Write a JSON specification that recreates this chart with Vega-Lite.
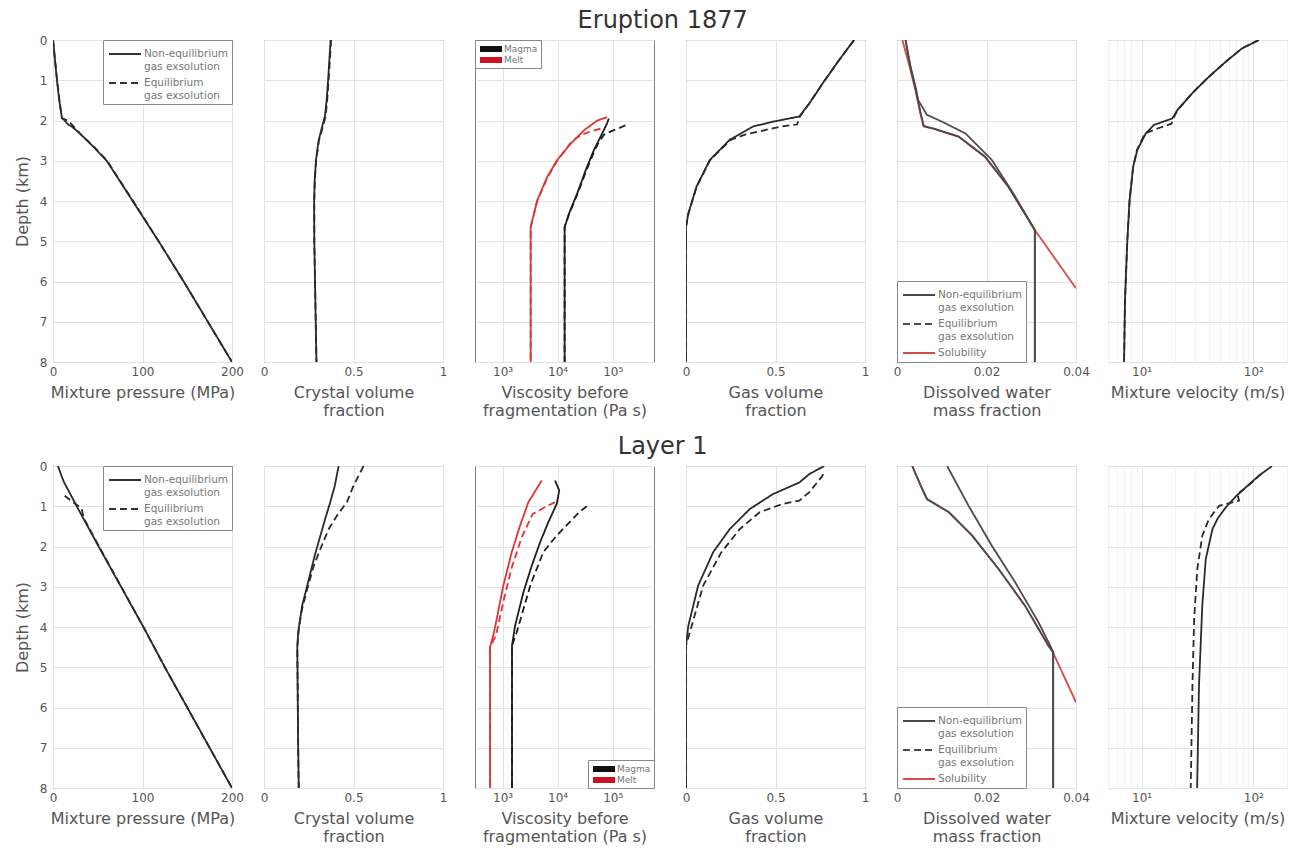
{
"$schema": "https://vega.github.io/schema/vega-lite/v6.json",
"background": "white",
"padding": {"left": 13, "top": 8, "right": 5, "bottom": 5},
"config": {
  "font": "DejaVu Sans",
  "view": {"stroke": "#808080", "strokeWidth": 1},
  "axis": {"domain": false, "ticks": false, "grid": true, "gridColor": "#e2e2e2", "gridWidth": 1, "labelFont": "DejaVu Sans", "labelFontSize": 12, "labelColor": "#555555", "titleFont": "DejaVu Sans", "titleFontSize": 16, "titleFontWeight": "normal", "titleColor": "#555555", "labelPadding": 4, "titlePadding": 7, "titleLineHeight": 18, "labelOverlap": false, "labelFlush": false},
  "legend": {"title": null, "strokeColor": "#888888", "fillColor": "white", "labelFont": "DejaVu Sans", "labelColor": "#777777", "cornerRadius": 0},
  "title": {"font": "DejaVu Sans", "fontSize": 24, "fontWeight": "normal", "color": "#333333", "anchor": "middle", "frame": "bounds"}
},
"spacing": 15,
"resolve": {"scale": {"color": "independent", "strokeDash": "independent"}, "legend": {"color": "independent", "strokeDash": "independent"}},
"vconcat": [
{
  "title": {"text": "Eruption 1877", "offset": 1, "dx": 12},
  "spacing": 32,
  "bounds": "flush",
  "resolve": {"scale": {"color": "independent", "strokeDash": "independent"}, "legend": {"color": "independent", "strokeDash": "independent"}},
  "hconcat": [
  {
    "width": 179, "height": 322,
    "data": {"values": [
      {"s":"ne","d":0,"v":0.1},{"s":"ne","d":0.5,"v":2.2},{"s":"ne","d":1,"v":4.4},{"s":"ne","d":1.5,"v":7},{"s":"ne","d":1.94,"v":10},{"s":"ne","d":2,"v":13},{"s":"ne","d":2.1,"v":17},{"s":"ne","d":2.15,"v":21},{"s":"ne","d":2.3,"v":29},{"s":"ne","d":2.65,"v":45},{"s":"ne","d":3,"v":60},{"s":"ne","d":4,"v":89},{"s":"ne","d":5,"v":118},{"s":"ne","d":6,"v":146},{"s":"ne","d":7,"v":173},{"s":"ne","d":8,"v":200},
      {"s":"eq","d":0,"v":0.1},{"s":"eq","d":0.5,"v":2.3},{"s":"eq","d":1,"v":4.6},{"s":"eq","d":1.5,"v":7.2},{"s":"eq","d":1.94,"v":10},{"s":"eq","d":2,"v":16},{"s":"eq","d":2.07,"v":20},{"s":"eq","d":2.2,"v":25},{"s":"eq","d":2.32,"v":30},{"s":"eq","d":2.65,"v":45.5},{"s":"eq","d":3,"v":60.5},{"s":"eq","d":4,"v":89.5},{"s":"eq","d":5,"v":118},{"s":"eq","d":6,"v":146},{"s":"eq","d":7,"v":173},{"s":"eq","d":8,"v":200}
    ]},
    "mark": {"type": "line", "strokeWidth": 1.8, "color": "#2a2a2a", "clip": true},
    "encoding": {
      "x": {"field": "v", "type": "quantitative", "scale": {"domain": [0, 200], "nice": false, "zero": false}, "axis": {"values": [0, 100, 200], "title": "Mixture pressure (MPa)"}},
      "y": {"field": "d", "type": "quantitative", "scale": {"domain": [0, 8], "reverse": true, "nice": false}, "axis": {"values": [0,1,2,3,4,5,6,7,8], "title": "Depth (km)", "labelPadding": 6, "titlePadding": 9}},
      "order": {"field": "d", "type": "quantitative"},
      "strokeDash": {"field": "s", "type": "nominal", "scale": {"domain": ["ne", "eq"], "range": [[1, 0], [7, 4]]},
        "legend": {"orient": "top-right", "offset": 0, "padding": 3, "symbolType": "M-0.8,0H2.4", "symbolSize": 400, "symbolStrokeWidth": 2, "symbolStrokeColor": "#333333", "labelFontSize": 10.5, "labelOffset": 16, "rowPadding": 0,
          "labelExpr": "datum.value == 'ne' ? ['Non-equilibrium', 'gas exsolution'] : ['Equilibrium', 'gas exsolution']"}}
    }
  },
  {
    "width": 179, "height": 322,
    "data": {"values": [
      {"s":"ne","d":0,"v":0.372},{"s":"ne","d":0.5,"v":0.365},{"s":"ne","d":1,"v":0.358},{"s":"ne","d":1.5,"v":0.35},{"s":"ne","d":1.9,"v":0.34},{"s":"ne","d":2.2,"v":0.322},{"s":"ne","d":2.5,"v":0.305},{"s":"ne","d":3,"v":0.29},{"s":"ne","d":3.5,"v":0.283},{"s":"ne","d":4,"v":0.28},{"s":"ne","d":5,"v":0.281},{"s":"ne","d":6,"v":0.285},{"s":"ne","d":7,"v":0.289},{"s":"ne","d":8,"v":0.293},
      {"s":"eq","d":0,"v":0.375},{"s":"eq","d":0.5,"v":0.368},{"s":"eq","d":1,"v":0.361},{"s":"eq","d":1.5,"v":0.353},{"s":"eq","d":1.9,"v":0.344},{"s":"eq","d":2.2,"v":0.326},{"s":"eq","d":2.5,"v":0.307},{"s":"eq","d":3,"v":0.291},{"s":"eq","d":3.5,"v":0.284},{"s":"eq","d":4,"v":0.281},{"s":"eq","d":5,"v":0.281},{"s":"eq","d":6,"v":0.285},{"s":"eq","d":7,"v":0.289},{"s":"eq","d":8,"v":0.293}
    ]},
    "mark": {"type": "line", "strokeWidth": 1.8, "color": "#2a2a2a", "clip": true},
    "encoding": {
      "x": {"field": "v", "type": "quantitative", "scale": {"domain": [0, 1], "nice": false, "zero": false}, "axis": {"values": [0, 0.5, 1], "labelExpr": "toString(datum.value)", "title": ["Crystal volume", "fraction"]}},
      "y": {"field": "d", "type": "quantitative", "scale": {"domain": [0, 8], "reverse": true, "nice": false}, "axis": {"values": [0,1,2,3,4,5,6,7,8], "labels": false, "title": null}},
      "order": {"field": "d", "type": "quantitative"},
      "strokeDash": {"field": "s", "type": "nominal", "scale": {"domain": ["ne", "eq"], "range": [[1, 0], [7, 4]]}, "legend": null}
    }
  },
  {
    "width": 179, "height": 322,
    "data": {"values": [
      {"m":"Magma","s":"ne","d":8,"v":13400},{"m":"Magma","s":"ne","d":4.65,"v":13400},{"m":"Magma","s":"ne","d":4.31,"v":16100},{"m":"Magma","s":"ne","d":3.81,"v":22700},{"m":"Magma","s":"ne","d":3.23,"v":32400},{"m":"Magma","s":"ne","d":2.73,"v":45700},{"m":"Magma","s":"ne","d":2.32,"v":64600},{"m":"Magma","s":"ne","d":2.07,"v":79000},{"m":"Magma","s":"ne","d":1.95,"v":85000},
      {"m":"Melt","s":"ne","d":8,"v":3240},{"m":"Melt","s":"ne","d":4.65,"v":3240},{"m":"Melt","s":"ne","d":3.98,"v":4270},{"m":"Melt","s":"ne","d":3.4,"v":6480},{"m":"Melt","s":"ne","d":2.98,"v":9820},{"m":"Melt","s":"ne","d":2.57,"v":17400},{"m":"Melt","s":"ne","d":2.24,"v":30400},{"m":"Melt","s":"ne","d":2.0,"v":52500},{"m":"Melt","s":"ne","d":1.92,"v":79000},
      {"m":"Magma","s":"eq","d":8,"v":13400},{"m":"Magma","s":"eq","d":4.65,"v":13400},{"m":"Magma","s":"eq","d":4.31,"v":16300},{"m":"Magma","s":"eq","d":3.81,"v":23200},{"m":"Magma","s":"eq","d":3.23,"v":33500},{"m":"Magma","s":"eq","d":2.73,"v":47500},{"m":"Magma","s":"eq","d":2.5,"v":58000},{"m":"Magma","s":"eq","d":2.35,"v":70000},{"m":"Magma","s":"eq","d":2.25,"v":100000},{"m":"Magma","s":"eq","d":2.18,"v":135000},{"m":"Magma","s":"eq","d":2.12,"v":170000},
      {"m":"Melt","s":"eq","d":8,"v":3240},{"m":"Melt","s":"eq","d":4.65,"v":3240},{"m":"Melt","s":"eq","d":3.98,"v":4300},{"m":"Melt","s":"eq","d":3.4,"v":6600},{"m":"Melt","s":"eq","d":2.98,"v":10100},{"m":"Melt","s":"eq","d":2.57,"v":17000},{"m":"Melt","s":"eq","d":2.45,"v":21000},{"m":"Melt","s":"eq","d":2.33,"v":30000},{"m":"Melt","s":"eq","d":2.25,"v":45000},{"m":"Melt","s":"eq","d":2.2,"v":60000}
    ]},
    "mark": {"type": "line", "strokeWidth": 1.8, "clip": true},
    "encoding": {
      "x": {"field": "v", "type": "quantitative", "scale": {"type": "log", "domain": [316.2, 562341], "nice": false}, "axis": {"values": [1000, 10000, 100000], "labelExpr": "datum.value == 1000 ? '10³' : datum.value == 10000 ? '10⁴' : '10⁵'", "title": ["Viscosity before", "fragmentation (Pa s)"]}},
      "y": {"field": "d", "type": "quantitative", "scale": {"domain": [0, 8], "reverse": true, "nice": false}, "axis": {"values": [0,1,2,3,4,5,6,7,8], "labels": false, "title": null}},
      "order": {"field": "d", "type": "quantitative"},
      "color": {"field": "m", "type": "nominal", "scale": {"domain": ["Magma", "Melt"], "range": ["#1e1e1e", "#dd3535"]},
        "legend": {"orient": "top-left", "offset": 0, "padding": 3, "symbolType": "M-0.67,-0.5H3V0.5H-0.67Z", "symbolSize": 144, "symbolStrokeWidth": 0, "labelFontSize": 9, "labelOffset": 14, "rowPadding": 0,
          "encode": {"symbols": {"update": {"fill": {"signal": "datum.value == 'Magma' ? '#111111' : '#cc1122'"}, "fillOpacity": {"value": 1}, "strokeWidth": {"value": 0}}}}}},
      "strokeDash": {"field": "s", "type": "nominal", "scale": {"domain": ["ne", "eq"], "range": [[1, 0], [7, 4]]}, "legend": null}
    }
  },
  {
    "width": 179, "height": 322,
    "data": {"values": [
      {"s":"ne","d":8,"v":0},{"s":"ne","d":4.64,"v":0},{"s":"ne","d":4.31,"v":0.013},{"s":"ne","d":3.64,"v":0.059},{"s":"ne","d":2.98,"v":0.133},{"s":"ne","d":2.48,"v":0.244},{"s":"ne","d":2.15,"v":0.374},{"s":"ne","d":2.03,"v":0.485},{"s":"ne","d":1.9,"v":0.633},{"s":"ne","d":1.57,"v":0.69},{"s":"ne","d":1.08,"v":0.763},{"s":"ne","d":0.5,"v":0.855},{"s":"ne","d":0,"v":0.939},
      {"s":"eq","d":8,"v":0},{"s":"eq","d":4.64,"v":0},{"s":"eq","d":4.31,"v":0.014},{"s":"eq","d":3.64,"v":0.06},{"s":"eq","d":2.98,"v":0.135},{"s":"eq","d":2.48,"v":0.25},{"s":"eq","d":2.35,"v":0.33},{"s":"eq","d":2.25,"v":0.43},{"s":"eq","d":2.15,"v":0.53},{"s":"eq","d":2.1,"v":0.62},{"s":"eq","d":1.9,"v":0.636},{"s":"eq","d":1.57,"v":0.69},{"s":"eq","d":1.08,"v":0.763},{"s":"eq","d":0.5,"v":0.855},{"s":"eq","d":0,"v":0.939}
    ]},
    "mark": {"type": "line", "strokeWidth": 1.8, "color": "#2a2a2a", "clip": true},
    "encoding": {
      "x": {"field": "v", "type": "quantitative", "scale": {"domain": [0, 1], "nice": false, "zero": false}, "axis": {"values": [0, 0.5, 1], "labelExpr": "toString(datum.value)", "title": ["Gas volume", "fraction"]}},
      "y": {"field": "d", "type": "quantitative", "scale": {"domain": [0, 8], "reverse": true, "nice": false}, "axis": {"values": [0,1,2,3,4,5,6,7,8], "labels": false, "title": null}},
      "order": {"field": "d", "type": "quantitative"},
      "strokeDash": {"field": "s", "type": "nominal", "scale": {"domain": ["ne", "eq"], "range": [[1, 0], [7, 4]]}, "legend": null}
    }
  },
  {
    "width": 179, "height": 322,
    "data": {"values": [
      {"s":"sol","d":0,"v":0.0012},{"s":"sol","d":0.66,"v":0.0028},{"s":"sol","d":1.24,"v":0.0041},{"s":"sol","d":1.82,"v":0.0052},{"s":"sol","d":2.14,"v":0.0059},{"s":"sol","d":2.2,"v":0.0081},{"s":"sol","d":2.4,"v":0.0137},{"s":"sol","d":2.9,"v":0.0196},{"s":"sol","d":3.64,"v":0.0248},{"s":"sol","d":4.72,"v":0.0308},{"s":"sol","d":6.17,"v":0.04},
      {"s":"ne","d":0,"v":0.0019},{"s":"ne","d":0.66,"v":0.003},{"s":"ne","d":1.24,"v":0.0043},{"s":"ne","d":1.49,"v":0.0047},{"s":"ne","d":1.86,"v":0.0067},{"s":"ne","d":2.03,"v":0.0101},{"s":"ne","d":2.32,"v":0.0153},{"s":"ne","d":2.98,"v":0.0212},{"s":"ne","d":3.89,"v":0.0264},{"s":"ne","d":4.72,"v":0.0308},{"s":"ne","d":8,"v":0.0308},
      {"s":"eq","d":0,"v":0.0019},{"s":"eq","d":0.66,"v":0.003},{"s":"eq","d":1.24,"v":0.0042},{"s":"eq","d":1.82,"v":0.0053},{"s":"eq","d":2.14,"v":0.006},{"s":"eq","d":2.2,"v":0.0082},{"s":"eq","d":2.4,"v":0.0138},{"s":"eq","d":2.9,"v":0.0197},{"s":"eq","d":3.64,"v":0.0249},{"s":"eq","d":4.72,"v":0.0308},{"s":"eq","d":8,"v":0.0308}
    ]},
    "mark": {"type": "line", "strokeWidth": 1.8, "clip": true},
    "encoding": {
      "x": {"field": "v", "type": "quantitative", "scale": {"domain": [0, 0.04], "nice": false, "zero": false}, "axis": {"values": [0, 0.02, 0.04], "labelExpr": "toString(datum.value)", "title": ["Dissolved water", "mass fraction"]}},
      "y": {"field": "d", "type": "quantitative", "scale": {"domain": [0, 8], "reverse": true, "nice": false}, "axis": {"values": [0,1,2,3,4,5,6,7,8], "labels": false, "title": null}},
      "order": {"field": "d", "type": "quantitative"},
      "color": {"field": "s", "type": "nominal", "scale": {"domain": ["ne", "eq", "sol"], "range": ["#4a4a4a", "#4a4a4a", "#d84a4a"]},
        "legend": {"orient": "bottom-left", "offset": 0, "padding": 3, "symbolType": "M-0.8,0H2.4", "symbolSize": 400, "symbolStrokeWidth": 2, "labelFontSize": 10.5, "labelOffset": 16, "rowPadding": 0,
          "labelExpr": "datum.value == 'ne' ? ['Non-equilibrium', 'gas exsolution'] : datum.value == 'eq' ? ['Equilibrium', 'gas exsolution'] : 'Solubility'",
          "encode": {"symbols": {"update": {"strokeDash": {"signal": "datum.value == 'eq' ? [7, 4] : [1, 0]"}}}}}}
    }
  },
  {
    "width": 179, "height": 322,
    "data": {"values": [
      {"s":"ne","d":8,"v":6.96},{"s":"ne","d":6.46,"v":7.1},{"s":"ne","d":4.97,"v":7.45},{"s":"ne","d":3.98,"v":7.8},{"s":"ne","d":3.15,"v":8.4},{"s":"ne","d":2.73,"v":9.15},{"s":"ne","d":2.32,"v":10.9},{"s":"ne","d":2.11,"v":12.9},{"s":"ne","d":1.95,"v":18.8},{"s":"ne","d":1.74,"v":20.9},{"s":"ne","d":1.32,"v":28.4},{"s":"ne","d":0.91,"v":40.1},{"s":"ne","d":0.54,"v":56.6},{"s":"ne","d":0.21,"v":79},{"s":"ne","d":0,"v":112},
      {"s":"eq","d":8,"v":6.96},{"s":"eq","d":6.46,"v":7.1},{"s":"eq","d":4.97,"v":7.45},{"s":"eq","d":3.98,"v":7.8},{"s":"eq","d":3.15,"v":8.4},{"s":"eq","d":2.73,"v":9.1},{"s":"eq","d":2.32,"v":10.7},{"s":"eq","d":2.18,"v":14.5},{"s":"eq","d":2.08,"v":18.5},{"s":"eq","d":1.95,"v":19.2},{"s":"eq","d":1.74,"v":21},{"s":"eq","d":1.32,"v":28.4},{"s":"eq","d":0.91,"v":40.1},{"s":"eq","d":0.54,"v":56.6},{"s":"eq","d":0.21,"v":79},{"s":"eq","d":0,"v":112}
    ]},
    "mark": {"type": "line", "strokeWidth": 1.8, "color": "#2a2a2a", "clip": true},
    "encoding": {
      "x": {"field": "v", "type": "quantitative", "scale": {"type": "log", "domain": [5, 200], "nice": false}, "axis": {"values": [5,6,7,8,9,10,20,30,40,50,60,70,80,90,100,200], "labelExpr": "datum.value == 10 ? '10¹' : datum.value == 100 ? '10²' : ''", "gridColor": {"condition": {"test": "datum.value == 10 || datum.value == 100", "value": "#e2e2e2"}, "value": "#f1f1f1"}, "title": "Mixture velocity (m/s)"}},
      "y": {"field": "d", "type": "quantitative", "scale": {"domain": [0, 8], "reverse": true, "nice": false}, "axis": {"values": [0,1,2,3,4,5,6,7,8], "labels": false, "title": null}},
      "order": {"field": "d", "type": "quantitative"},
      "strokeDash": {"field": "s", "type": "nominal", "scale": {"domain": ["ne", "eq"], "range": [[1, 0], [7, 4]]}, "legend": null}
    }
  }
  ]
},
{
  "title": {"text": "Layer 1", "offset": 1, "dx": 12},
  "spacing": 32,
  "bounds": "flush",
  "resolve": {"scale": {"color": "independent", "strokeDash": "independent"}, "legend": {"color": "independent", "strokeDash": "independent"}},
  "hconcat": [
  {
    "width": 179, "height": 322,
    "data": {"values": [
      {"s":"ne","d":0,"v":5.6},{"s":"ne","d":0.24,"v":9.4},{"s":"ne","d":0.4,"v":12.3},{"s":"ne","d":1,"v":26.5},{"s":"ne","d":2,"v":51},{"s":"ne","d":3,"v":76},{"s":"ne","d":4,"v":101},{"s":"ne","d":5,"v":125},{"s":"ne","d":6,"v":150},{"s":"ne","d":7,"v":175},{"s":"ne","d":8,"v":200},
      {"s":"eq","d":0.74,"v":13},{"s":"eq","d":0.86,"v":20},{"s":"eq","d":1.05,"v":31.8},{"s":"eq","d":1.3,"v":34.5},{"s":"eq","d":2,"v":51.5},{"s":"eq","d":3,"v":76.2},{"s":"eq","d":4,"v":101},{"s":"eq","d":5,"v":125},{"s":"eq","d":6,"v":150},{"s":"eq","d":7,"v":175},{"s":"eq","d":8,"v":200}
    ]},
    "mark": {"type": "line", "strokeWidth": 1.8, "color": "#2a2a2a", "clip": true},
    "encoding": {
      "x": {"field": "v", "type": "quantitative", "scale": {"domain": [0, 200], "nice": false, "zero": false}, "axis": {"values": [0, 100, 200], "title": "Mixture pressure (MPa)"}},
      "y": {"field": "d", "type": "quantitative", "scale": {"domain": [0, 8], "reverse": true, "nice": false}, "axis": {"values": [0,1,2,3,4,5,6,7,8], "title": "Depth (km)", "labelPadding": 6, "titlePadding": 9}},
      "order": {"field": "d", "type": "quantitative"},
      "strokeDash": {"field": "s", "type": "nominal", "scale": {"domain": ["ne", "eq"], "range": [[1, 0], [7, 4]]},
        "legend": {"orient": "top-right", "offset": 0, "padding": 3, "symbolType": "M-0.8,0H2.4", "symbolSize": 400, "symbolStrokeWidth": 2, "symbolStrokeColor": "#333333", "labelFontSize": 10.5, "labelOffset": 16, "rowPadding": 0,
          "labelExpr": "datum.value == 'ne' ? ['Non-equilibrium', 'gas exsolution'] : ['Equilibrium', 'gas exsolution']"}}
    }
  },
  {
    "width": 179, "height": 322,
    "data": {"values": [
      {"s":"ne","d":0,"v":0.417},{"s":"ne","d":0.5,"v":0.395},{"s":"ne","d":0.9,"v":0.37},{"s":"ne","d":1.3,"v":0.343},{"s":"ne","d":1.73,"v":0.315},{"s":"ne","d":2.2,"v":0.285},{"s":"ne","d":2.64,"v":0.26},{"s":"ne","d":3,"v":0.24},{"s":"ne","d":3.47,"v":0.213},{"s":"ne","d":4.13,"v":0.191},{"s":"ne","d":4.5,"v":0.186},{"s":"ne","d":5,"v":0.187},{"s":"ne","d":6,"v":0.189},{"s":"ne","d":7,"v":0.191},{"s":"ne","d":8,"v":0.194},
      {"s":"eq","d":0,"v":0.556},{"s":"eq","d":0.49,"v":0.5},{"s":"eq","d":0.9,"v":0.463},{"s":"eq","d":1.23,"v":0.408},{"s":"eq","d":1.57,"v":0.361},{"s":"eq","d":2.06,"v":0.315},{"s":"eq","d":2.48,"v":0.278},{"s":"eq","d":3.06,"v":0.241},{"s":"eq","d":3.55,"v":0.213},{"s":"eq","d":3.97,"v":0.196},{"s":"eq","d":4.3,"v":0.19},{"s":"eq","d":4.5,"v":0.186},{"s":"eq","d":5,"v":0.187},{"s":"eq","d":6,"v":0.189},{"s":"eq","d":7,"v":0.191},{"s":"eq","d":8,"v":0.194}
    ]},
    "mark": {"type": "line", "strokeWidth": 1.8, "color": "#2a2a2a", "clip": true},
    "encoding": {
      "x": {"field": "v", "type": "quantitative", "scale": {"domain": [0, 1], "nice": false, "zero": false}, "axis": {"values": [0, 0.5, 1], "labelExpr": "toString(datum.value)", "title": ["Crystal volume", "fraction"]}},
      "y": {"field": "d", "type": "quantitative", "scale": {"domain": [0, 8], "reverse": true, "nice": false}, "axis": {"values": [0,1,2,3,4,5,6,7,8], "labels": false, "title": null}},
      "order": {"field": "d", "type": "quantitative"},
      "strokeDash": {"field": "s", "type": "nominal", "scale": {"domain": ["ne", "eq"], "range": [[1, 0], [7, 4]]}, "legend": null}
    }
  },
  {
    "width": 179, "height": 322,
    "data": {"values": [
      {"m":"Magma","s":"ne","d":8,"v":1486},{"m":"Magma","s":"ne","d":4.46,"v":1486},{"m":"Magma","s":"ne","d":3.97,"v":1690},{"m":"Magma","s":"ne","d":3.14,"v":2390},{"m":"Magma","s":"ne","d":2.48,"v":3390},{"m":"Magma","s":"ne","d":1.9,"v":4790},{"m":"Magma","s":"ne","d":1.4,"v":6760},{"m":"Magma","s":"ne","d":0.94,"v":9640},{"m":"Magma","s":"ne","d":0.61,"v":10700},{"m":"Magma","s":"ne","d":0.36,"v":8980},
      {"m":"Melt","s":"ne","d":8,"v":593},{"m":"Melt","s":"ne","d":4.5,"v":593},{"m":"Melt","s":"ne","d":4.2,"v":680},{"m":"Melt","s":"ne","d":3.8,"v":785},{"m":"Melt","s":"ne","d":2.97,"v":1035},{"m":"Melt","s":"ne","d":2.14,"v":1470},{"m":"Melt","s":"ne","d":1.48,"v":2080},{"m":"Melt","s":"ne","d":0.9,"v":2940},{"m":"Melt","s":"ne","d":0.36,"v":5140},
      {"m":"Magma","s":"eq","d":8,"v":1486},{"m":"Magma","s":"eq","d":4.46,"v":1486},{"m":"Magma","s":"eq","d":4.13,"v":1810},{"m":"Magma","s":"eq","d":2.94,"v":3240},{"m":"Magma","s":"eq","d":2.14,"v":5500},{"m":"Magma","s":"eq","d":1.73,"v":9600},{"m":"Magma","s":"eq","d":1.15,"v":24500},{"m":"Magma","s":"eq","d":1.0,"v":34000},
      {"m":"Melt","s":"eq","d":8,"v":593},{"m":"Melt","s":"eq","d":4.5,"v":593},{"m":"Melt","s":"eq","d":4.21,"v":760},{"m":"Melt","s":"eq","d":3.3,"v":1065},{"m":"Melt","s":"eq","d":2.52,"v":1470},{"m":"Melt","s":"eq","d":1.77,"v":2230},{"m":"Melt","s":"eq","d":1.19,"v":3530},{"m":"Melt","s":"eq","d":0.99,"v":6500},{"m":"Melt","s":"eq","d":0.9,"v":8980}
    ]},
    "mark": {"type": "line", "strokeWidth": 1.8, "clip": true},
    "encoding": {
      "x": {"field": "v", "type": "quantitative", "scale": {"type": "log", "domain": [316.2, 562341], "nice": false}, "axis": {"values": [1000, 10000, 100000], "labelExpr": "datum.value == 1000 ? '10³' : datum.value == 10000 ? '10⁴' : '10⁵'", "title": ["Viscosity before", "fragmentation (Pa s)"]}},
      "y": {"field": "d", "type": "quantitative", "scale": {"domain": [0, 8], "reverse": true, "nice": false}, "axis": {"values": [0,1,2,3,4,5,6,7,8], "labels": false, "title": null}},
      "order": {"field": "d", "type": "quantitative"},
      "color": {"field": "m", "type": "nominal", "scale": {"domain": ["Magma", "Melt"], "range": ["#1e1e1e", "#dd3535"]},
        "legend": {"orient": "bottom-right", "offset": 0, "padding": 3, "symbolType": "M-0.67,-0.5H3V0.5H-0.67Z", "symbolSize": 144, "symbolStrokeWidth": 0, "labelFontSize": 9, "labelOffset": 14, "rowPadding": 0,
          "encode": {"symbols": {"update": {"fill": {"signal": "datum.value == 'Magma' ? '#111111' : '#cc1122'"}, "fillOpacity": {"value": 1}, "strokeWidth": {"value": 0}}}}}},
      "strokeDash": {"field": "s", "type": "nominal", "scale": {"domain": ["ne", "eq"], "range": [[1, 0], [7, 4]]}, "legend": null}
    }
  },
  {
    "width": 179, "height": 322,
    "data": {"values": [
      {"s":"ne","d":8,"v":0},{"s":"ne","d":4.46,"v":0},{"s":"ne","d":3.97,"v":0.013},{"s":"ne","d":2.97,"v":0.068},{"s":"ne","d":2.14,"v":0.152},{"s":"ne","d":1.57,"v":0.244},{"s":"ne","d":1.07,"v":0.356},{"s":"ne","d":0.7,"v":0.485},{"s":"ne","d":0.41,"v":0.633},{"s":"ne","d":0.2,"v":0.689},{"s":"ne","d":0,"v":0.772},
      {"s":"eq","d":8,"v":0},{"s":"eq","d":4.46,"v":0},{"s":"eq","d":3.97,"v":0.032},{"s":"eq","d":2.97,"v":0.096},{"s":"eq","d":2.14,"v":0.198},{"s":"eq","d":1.57,"v":0.3},{"s":"eq","d":1.15,"v":0.411},{"s":"eq","d":0.94,"v":0.541},{"s":"eq","d":0.86,"v":0.633},{"s":"eq","d":0.65,"v":0.689},{"s":"eq","d":0.24,"v":0.763},{"s":"eq","d":0.2,"v":0.765}
    ]},
    "mark": {"type": "line", "strokeWidth": 1.8, "color": "#2a2a2a", "clip": true},
    "encoding": {
      "x": {"field": "v", "type": "quantitative", "scale": {"domain": [0, 1], "nice": false, "zero": false}, "axis": {"values": [0, 0.5, 1], "labelExpr": "toString(datum.value)", "title": ["Gas volume", "fraction"]}},
      "y": {"field": "d", "type": "quantitative", "scale": {"domain": [0, 8], "reverse": true, "nice": false}, "axis": {"values": [0,1,2,3,4,5,6,7,8], "labels": false, "title": null}},
      "order": {"field": "d", "type": "quantitative"},
      "strokeDash": {"field": "s", "type": "nominal", "scale": {"domain": ["ne", "eq"], "range": [[1, 0], [7, 4]]}, "legend": null}
    }
  },
  {
    "width": 179, "height": 322,
    "data": {"values": [
      {"s":"sol","d":0,"v":0.0034},{"s":"sol","d":0.49,"v":0.0053},{"s":"sol","d":0.82,"v":0.0067},{"s":"sol","d":1.15,"v":0.0116},{"s":"sol","d":1.73,"v":0.0168},{"s":"sol","d":2.56,"v":0.0227},{"s":"sol","d":3.47,"v":0.0286},{"s":"sol","d":4.46,"v":0.0338},{"s":"sol","d":4.62,"v":0.0348},{"s":"sol","d":5.87,"v":0.04},
      {"s":"ne","d":0,"v":0.0112},{"s":"ne","d":0.99,"v":0.016},{"s":"ne","d":1.98,"v":0.0212},{"s":"ne","d":2.89,"v":0.0264},{"s":"ne","d":3.88,"v":0.0316},{"s":"ne","d":4.46,"v":0.0342},{"s":"ne","d":4.62,"v":0.0349},{"s":"ne","d":8,"v":0.0349},
      {"s":"eq","d":0,"v":0.0034},{"s":"eq","d":0.49,"v":0.0053},{"s":"eq","d":0.82,"v":0.0067},{"s":"eq","d":1.15,"v":0.0116},{"s":"eq","d":1.73,"v":0.0168},{"s":"eq","d":2.56,"v":0.0227},{"s":"eq","d":3.47,"v":0.0286},{"s":"eq","d":4.46,"v":0.0338},{"s":"eq","d":4.62,"v":0.0349},{"s":"eq","d":8,"v":0.0349}
    ]},
    "mark": {"type": "line", "strokeWidth": 1.8, "clip": true},
    "encoding": {
      "x": {"field": "v", "type": "quantitative", "scale": {"domain": [0, 0.04], "nice": false, "zero": false}, "axis": {"values": [0, 0.02, 0.04], "labelExpr": "toString(datum.value)", "title": ["Dissolved water", "mass fraction"]}},
      "y": {"field": "d", "type": "quantitative", "scale": {"domain": [0, 8], "reverse": true, "nice": false}, "axis": {"values": [0,1,2,3,4,5,6,7,8], "labels": false, "title": null}},
      "order": {"field": "d", "type": "quantitative"},
      "color": {"field": "s", "type": "nominal", "scale": {"domain": ["ne", "eq", "sol"], "range": ["#4a4a4a", "#4a4a4a", "#d84a4a"]},
        "legend": {"orient": "bottom-left", "offset": 0, "padding": 3, "symbolType": "M-0.8,0H2.4", "symbolSize": 400, "symbolStrokeWidth": 2, "labelFontSize": 10.5, "labelOffset": 16, "rowPadding": 0,
          "labelExpr": "datum.value == 'ne' ? ['Non-equilibrium', 'gas exsolution'] : datum.value == 'eq' ? ['Equilibrium', 'gas exsolution'] : 'Solubility'",
          "encode": {"symbols": {"update": {"strokeDash": {"signal": "datum.value == 'eq' ? [7, 4] : [1, 0]"}}}}}}
    }
  },
  {
    "width": 179, "height": 322,
    "data": {"values": [
      {"s":"ne","d":8,"v":31.4},{"s":"ne","d":5.46,"v":32.6},{"s":"ne","d":3.47,"v":34.9},{"s":"ne","d":2.31,"v":37.5},{"s":"ne","d":1.57,"v":43},{"s":"ne","d":1.3,"v":48},{"s":"ne","d":1.03,"v":56.6},{"s":"ne","d":0.75,"v":70},{"s":"ne","d":0.5,"v":88},{"s":"ne","d":0.24,"v":112},{"s":"ne","d":0,"v":147},
      {"s":"eq","d":8,"v":27.5},{"s":"eq","d":5.46,"v":28.5},{"s":"eq","d":3.8,"v":29.5},{"s":"eq","d":2.56,"v":31.5},{"s":"eq","d":1.73,"v":34.9},{"s":"eq","d":1.32,"v":40},{"s":"eq","d":0.99,"v":49.3},{"s":"eq","d":0.86,"v":74.5},{"s":"eq","d":0.7,"v":72},{"s":"eq","d":0.5,"v":89},{"s":"eq","d":0.24,"v":113},{"s":"eq","d":0.2,"v":118}
    ]},
    "mark": {"type": "line", "strokeWidth": 1.8, "color": "#2a2a2a", "clip": true},
    "encoding": {
      "x": {"field": "v", "type": "quantitative", "scale": {"type": "log", "domain": [5, 200], "nice": false}, "axis": {"values": [5,6,7,8,9,10,20,30,40,50,60,70,80,90,100,200], "labelExpr": "datum.value == 10 ? '10¹' : datum.value == 100 ? '10²' : ''", "gridColor": {"condition": {"test": "datum.value == 10 || datum.value == 100", "value": "#e2e2e2"}, "value": "#f1f1f1"}, "title": "Mixture velocity (m/s)"}},
      "y": {"field": "d", "type": "quantitative", "scale": {"domain": [0, 8], "reverse": true, "nice": false}, "axis": {"values": [0,1,2,3,4,5,6,7,8], "labels": false, "title": null}},
      "order": {"field": "d", "type": "quantitative"},
      "strokeDash": {"field": "s", "type": "nominal", "scale": {"domain": ["ne", "eq"], "range": [[1, 0], [7, 4]]}, "legend": null}
    }
  }
  ]
}
]
}
